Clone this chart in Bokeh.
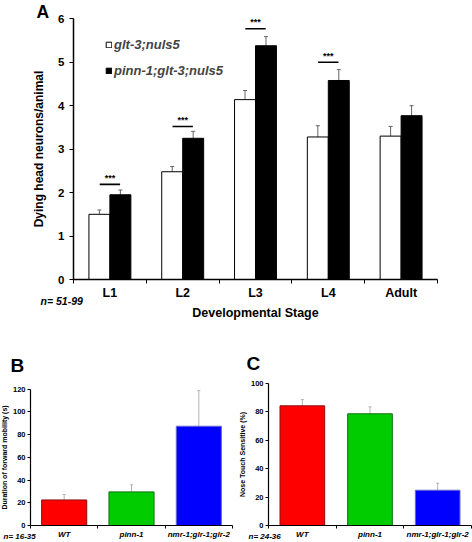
import numpy as np
from bokeh.plotting import figure
from bokeh.layouts import column, row
from bokeh.models import (Range1d, FixedTicker, Label, Legend, LegendItem,
                          Whisker, TeeHead, ColumnDataSource)
from bokeh.embed import file_html
from bokeh.resources import INLINE

FONT = "Liberation Sans"

# ---------------- Panel A data ----------------
stages = ["L1", "L2", "L3", "L4", "Adult"]
glt3 = [1.50, 2.48, 4.14, 3.28, 3.30]
glt3_err = [0.10, 0.12, 0.21, 0.26, 0.22]
pinn_glt3 = [1.95, 3.25, 5.38, 4.58, 3.77]
pinn_glt3_err = [0.11, 0.16, 0.21, 0.25, 0.23]
sig_stages = ["L1", "L2", "L3", "L4"]
sig_level = [2.19, 3.52, 5.77, 5.00]
sig_text = ["***", "***", "***", "***"]
a_yticks = [0, 1, 2, 3, 4, 5, 6]

# ---------------- Panel B data ----------------
strains = ["WT", "pinn-1", "nmr-1;glr-1;glr-2"]
mobility = [22.5, 29.6, 87.4]
mobility_err = [4.8, 6.2, 31.4]
b_yticks = [0, 20, 40, 60, 80, 100, 120]

# ---------------- Panel C data ----------------
nose_touch = [84.1, 78.5, 24.8]
nose_touch_err = [4.4, 4.9, 4.9]
c_yticks = [0, 20, 40, 60, 80, 100]

bar_fill = ["#ff0000", "#00cc00", "#0000ff"]
bar_line = ["#8a1010", "#107010", "#6a6ad0"]


def make_fig(W, H, xlim, ylim, ax_left, ax_right, ax_top, ax_bottom):
    """Figure whose frame is the whole canvas; axes are pinned at the data
    origin so that the data box sits at the given pixel box."""
    xs = (ax_right - ax_left) / (xlim[1] - xlim[0])
    ys = (ax_bottom - ax_top) / (ylim[1] - ylim[0])
    xr = Range1d(xlim[0] - ax_left / xs, xlim[1] + (W - ax_right) / xs)
    yr = Range1d(ylim[0] - (H - ax_bottom) / ys, ylim[1] + ax_top / ys)
    p = figure(width=W, height=H, output_backend="svg", toolbar_location=None,
               x_range=xr, y_range=yr, min_border=0)
    p.xgrid.grid_line_color = None
    p.ygrid.grid_line_color = None
    p.outline_line_color = None
    p.background_fill_color = "white"
    p.border_fill_color = "white"
    xa, ya = p.xaxis[0], p.yaxis[0]
    xa.fixed_location = ylim[0]
    ya.fixed_location = xlim[0]
    xa.bounds = (xlim[0], xlim[1])
    ya.bounds = (ylim[0], ylim[1])
    for ax in (xa, ya):
        ax.axis_line_color = "black"
        ax.axis_line_width = 1.5
        ax.major_tick_line_color = "black"
        ax.minor_tick_line_color = "black"
        ax.major_tick_in = 0
        ax.minor_tick_in = 0
        ax.major_label_text_font = FONT
        ax.major_label_text_font_style = "bold"
        ax.major_label_text_color = "black"
        ax.axis_label_text_font = FONT
        ax.axis_label_text_font_style = "bold"
        ax.axis_label_text_color = "black"
    return p


def screen_label(p, x, y, text, size, style):
    p.add_layout(Label(x=x, y=y, x_units="screen", y_units="screen", text=text,
                       text_font=FONT, text_font_size=size, text_font_style=style,
                       text_baseline="middle", text_color="black"))


# ======================= Panel A =======================
n_st = len(stages)
idx = np.arange(n_st)
bw = 0.288
pA = make_fig(472, 330, (0, n_st), (0, 6), 73, 437, 18.3, 279)

srcW = ColumnDataSource(dict(x=idx + 0.5 - bw / 2, top=glt3,
                             upper=np.array(glt3) + np.array(glt3_err)))
srcK = ColumnDataSource(dict(x=idx + 0.5 + bw / 2, top=pinn_glt3,
                             upper=np.array(pinn_glt3) + np.array(pinn_glt3_err)))
rW = pA.vbar(x="x", top="top", width=bw, bottom=0, source=srcW,
             fill_color="white", line_color="black", line_width=1)
rK = pA.vbar(x="x", top="top", width=bw, bottom=0, source=srcK,
             fill_color="black", line_color="black", line_width=1)
for s in (srcW, srcK):
    pA.add_layout(Whisker(base="x", lower="top", upper="upper", source=s,
                          line_color="#666666", line_width=1, lower_head=None,
                          upper_head=TeeHead(size=4, line_color="#666666", line_width=1)))

sig_x = np.array([stages.index(s) for s in sig_stages]) + 0.5
pA.segment(x0=sig_x - 0.14, x1=sig_x + 0.14, y0=sig_level, y1=sig_level,
           line_color="black", line_width=1.6)
pA.text(x=sig_x, y=np.array(sig_level) + 0.04, text=sig_text, text_align="center",
        text_baseline="bottom", text_font_size="9px", text_font_style="bold",
        text_font={"value": FONT}, text_color="black")

xa = pA.xaxis[0]
xa.ticker = FixedTicker(ticks=list(idx + 0.5), minor_ticks=list(range(n_st + 1)))
xa.major_label_overrides = {float(i + 0.5): s for i, s in enumerate(stages)}
xa.major_tick_line_color = None
xa.major_tick_out = 0
xa.minor_tick_out = 4
xa.major_label_standoff = 2
xa.major_label_text_font_size = "12.5px"
xa.axis_label = "Developmental Stage"
xa.axis_label_text_font_size = "12.5px"
xa.axis_label_standoff = 3

ya = pA.yaxis[0]
ya.ticker = FixedTicker(ticks=a_yticks, minor_ticks=[])
ya.major_tick_out = 4
ya.major_label_standoff = 5
ya.major_label_text_font_size = "11.5px"
ya.axis_label = "Dying head neurons/animal"
ya.axis_label_text_font_size = "12px"
ya.axis_label_standoff = 9

legA = Legend(items=[LegendItem(label="glt-3;nuls5", renderers=[rW]),
                     LegendItem(label="pinn-1;glt-3;nuls5", renderers=[rK])],
              location=(105, 252), padding=0, margin=0, spacing=10,
              glyph_width=7, glyph_height=7, label_height=16, label_standoff=2,
              label_text_font=FONT, label_text_font_style="bold italic",
              label_text_font_size="13px", border_line_color=None,
              background_fill_alpha=0)
pA.add_layout(legA)

screen_label(pA, 36, 319, "A", "17.5px", "bold")
screen_label(pA, 40, 30, "n= 51-99", "10.5px", "bold italic")


# ======================= Panels B & C =======================
def small_panel(values, errs, yticks, ymax, ylabel, ax_left, ax_right, ax_top,
                letter, letter_xy, n_text, n_xy, bar_w):
    n = len(strains)
    ix = np.arange(n)
    p = make_fig(236, 212, (0, n), (0, ymax), ax_left, ax_right, ax_top, 195)
    src = ColumnDataSource(dict(x=ix + 0.5, top=values, fill=bar_fill, line=bar_line,
                                upper=np.array(values) + np.array(errs)))
    p.vbar(x="x", top="top", width=bar_w, bottom=0, source=src,
           fill_color="fill", line_color="line", line_width=1)
    p.add_layout(Whisker(base="x", lower="top", upper="upper", source=src,
                         line_color="#b4b4b4", line_width=1, lower_head=None,
                         upper_head=TeeHead(size=3, line_color="#b4b4b4", line_width=1)))
    xa = p.xaxis[0]
    xa.ticker = FixedTicker(ticks=list(ix + 0.5), minor_ticks=list(range(n + 1)))
    xa.major_label_overrides = {float(i + 0.5): s for i, s in enumerate(strains)}
    xa.major_tick_line_color = None
    xa.major_tick_out = 0
    xa.minor_tick_out = 3
    xa.major_label_standoff = 1
    xa.major_label_text_font_size = "8px"
    xa.major_label_text_font_style = "bold italic"
    xa.axis_line_width = 1.2
    ya = p.yaxis[0]
    ya.ticker = FixedTicker(ticks=yticks, minor_ticks=[])
    ya.major_tick_out = 3
    ya.major_label_standoff = 2
    ya.major_label_text_font_size = "7.5px"
    ya.axis_line_width = 1.2
    ya.axis_label = ylabel
    ya.axis_label_text_font_size = "7px"
    ya.axis_label_standoff = 2
    screen_label(p, letter_xy[0], letter_xy[1], letter, "19px", "bold")
    screen_label(p, n_xy[0], n_xy[1], n_text, "8px", "bold italic")
    return p


pB = small_panel(mobility, mobility_err, b_yticks, 120,
                 "Duration of forward mobility (s)", 30, 232, 58.7,
                 "B", (10, 177), "n= 16-35", (3, 6), 0.67)
pC = small_panel(nose_touch, nose_touch_err, c_yticks, 100,
                 "Nose Touch Sensitive (%)", 32, 235, 52.7,
                 "C", (10, 179.5), "n= 24-36", (12, 6), 0.66)

layout = column(pA, row(pB, pC, spacing=0), spacing=0)
open("out.html", "w").write(file_html(layout, INLINE))
